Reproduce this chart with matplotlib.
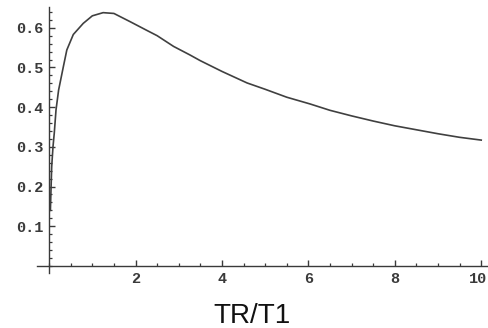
import matplotlib
matplotlib.use("Agg")
import matplotlib.pyplot as plt
from matplotlib.ticker import MultipleLocator, FixedLocator
from matplotlib.transforms import ScaledTranslation

# curve (TR/T1 vs signal efficiency)
tr_t1 = [0.03, 0.06, 0.09, 0.12, 0.16, 0.22, 0.33, 0.41, 0.56, 0.79, 1.0, 1.25,
         1.5, 1.88, 2.25, 2.5, 2.88, 3.25, 3.5, 4.0, 4.58, 5.0, 5.5, 6.04, 6.5,
         7.0, 7.5, 8.0, 8.5, 9.0, 9.5, 10.0]
signal = [0.14, 0.25, 0.30, 0.335, 0.393, 0.443, 0.502, 0.544, 0.583, 0.611, 0.630, 0.638,
          0.636, 0.615, 0.594, 0.58, 0.553, 0.532, 0.517, 0.49, 0.461, 0.445, 0.425, 0.408, 0.392,
          0.378, 0.365, 0.353, 0.343, 0.333, 0.324, 0.317]

x_ticks = [2, 4, 6, 8, 10]
y_ticks = [0.1, 0.2, 0.3, 0.4, 0.5, 0.6]

axis_col = "#3a3a3a"
tick_font = "Liberation Mono"

fig = plt.figure(figsize=(4.89, 3.28), dpi=100)
ax = fig.add_axes([37 / 489, 1 - 272.7 / 328, 452 / 489, 266 / 328])

ax.plot(tr_t1, signal, color="#404040", lw=1.2)

ax.set_xlim(-0.28, 10.18)
ax.set_ylim(-0.017, 0.653)

# Mathematica-style axes crossing at origin
for s in ["top", "right"]:
    ax.spines[s].set_visible(False)
ax.spines["left"].set_position(("data", 0))
ax.spines["bottom"].set_position(("data", 0))
for s in ["left", "bottom"]:
    ax.spines[s].set_color(axis_col)
    ax.spines[s].set_linewidth(1.0)

ax.xaxis.set_major_locator(FixedLocator(x_ticks))
ax.yaxis.set_major_locator(FixedLocator(y_ticks))
ax.xaxis.set_minor_locator(MultipleLocator(0.5))
ax.yaxis.set_minor_locator(MultipleLocator(0.02))
ax.set_xticklabels([str(t) for t in x_ticks])
ax.set_yticklabels([f"{t:.1f}" for t in y_ticks])

ax.tick_params(which="major", direction="in", length=4, width=1.0, color=axis_col,
               labelsize=11, labelcolor="#3a3a3a")
ax.tick_params(which="minor", direction="in", length=2.2, width=0.9, color=axis_col)
ax.tick_params(axis="x", which="major", pad=4)
ax.tick_params(axis="y", which="major", pad=4)
for lab in ax.get_xticklabels() + ax.get_yticklabels():
    lab.set_fontfamily(tick_font)
    lab.set_fontweight("bold")

# keep the last x label inside the image
last = ax.get_xticklabels()[-1]
last.set_transform(last.get_transform() + ScaledTranslation(-0.03, 0, fig.dpi_scale_trans))

fig.text(252 / 489, 1 - 323 / 328, "TR/T1", fontsize=20, family="Liberation Sans",
         ha="center", va="baseline", color="#111111")

fig.savefig("out.png", dpi=100)
